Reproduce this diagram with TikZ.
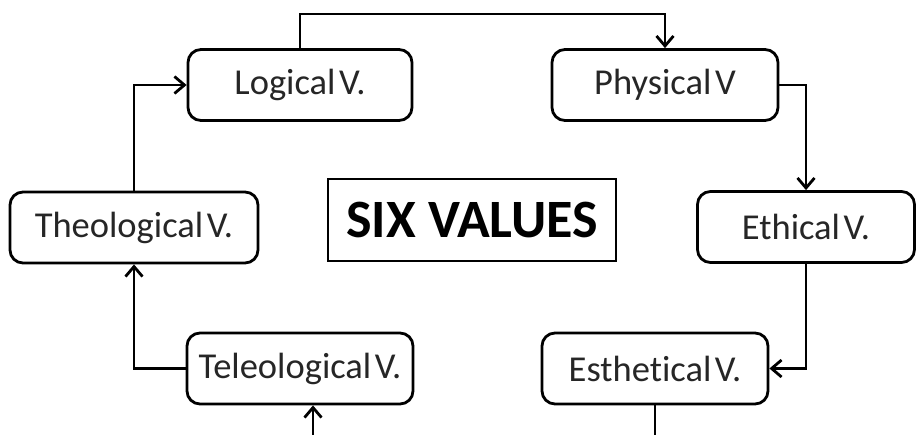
\documentclass[tikz,border=0pt]{standalone}
\usepackage{fontspec}
\setmainfont[Ligatures=NoCommon]{Carlito}
\usetikzlibrary{arrows.meta}
\newcommand{\tsp}{\hspace{0.1em}}
\begin{document}
\begin{tikzpicture}[x=1pt,y=-1pt,
  valbox/.style={draw=black,line width=2.8pt,rounded corners=13pt,fill=white,
    minimum width=#1,minimum height=71pt,inner sep=0pt,
    font=\fontsize{36.5}{40}\selectfont,text=black!85},
  valbox/.default=226pt,
  titlebox/.style={draw=black,line width=2.8pt,fill=white,minimum width=288pt,
    minimum height=82pt,inner sep=0pt,font=\fontsize{54}{60}\selectfont\bfseries},
  link/.style={line width=2.8pt,draw=black},
  arr/.style={link,-{Straight Barb[length=10pt,width=17pt,line width=2.8pt]}}]
\useasboundingbox (0,0) rectangle (917,434);
\fill[white] (0,0) rectangle (917,434);

% the six value boxes and the title
\node[valbox=224pt] (log) at (300,85) {Logical\tsp V.};
\node[valbox] (phy) at (665,85) {Physical\tsp V};
\node[valbox=248pt] (theo) at (134,227.5) {Theological\tsp V.};
\node[titlebox] (six) at (472,220) {SIX VALUES};
\node[valbox=217pt] (eth) at (806,227) {Ethical\tsp V.};
\node[valbox] (tele) at (300,368.5) {Teleological\tsp V.};
\node[valbox] (est) at (655,368.5) {Esthetical\tsp V.};

% free ends of the loop
\coordinate (top) at (300,14);
\coordinate (botL) at (313,436);
\coordinate (botR) at (655,436);

% connectors around the cycle
\draw[arr] (log.north) -- (top) -| (phy.north);
\draw[arr] (phy.east) -| (eth.north);
\draw[arr] (eth.south) |- (est.east);
\draw[link] (est.south) -- (botR);
\draw[arr] (botL) -- (botL |- tele.south);
\draw[arr] (tele.west) -| (theo.south);
\draw[arr] (theo.north) |- (log.west);
\end{tikzpicture}
\end{document}
